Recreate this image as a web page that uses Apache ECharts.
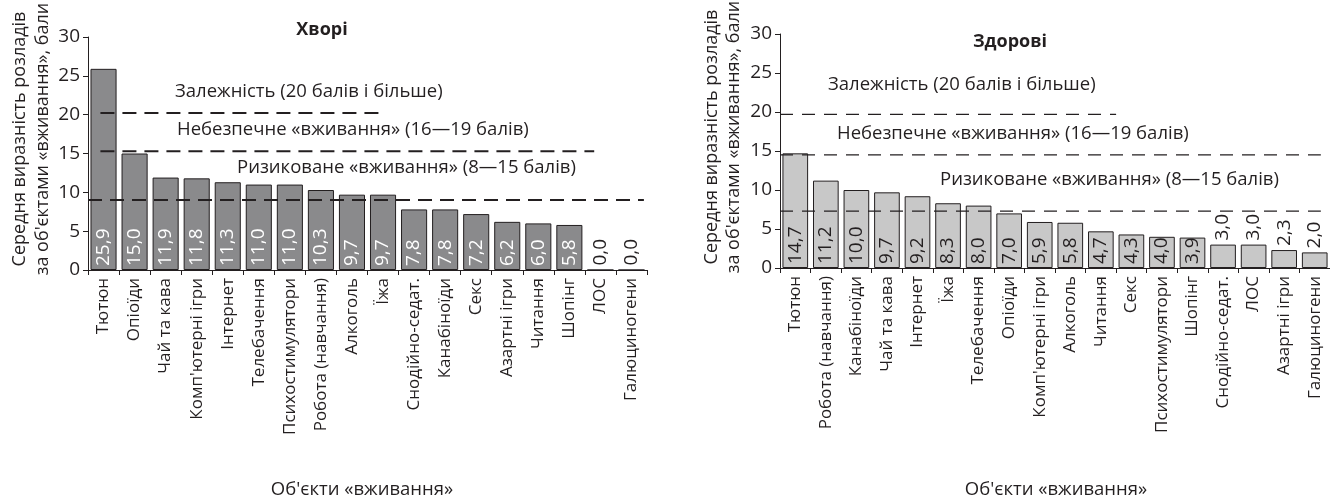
<!DOCTYPE html>
<html>
<head>
<meta charset="utf-8">
<script src="https://cdn.jsdelivr.net/npm/echarts@6/dist/echarts.min.js"></script>
<style>
  html, body { margin: 0; background: #fff; }
  #chart { width: 1330px; height: 497px; }
</style>
</head>
<body>
<div id="chart"></div>
<script>
const sickCategories = ['Тютюн', 'Опіоїди', 'Чай та кава', "Комп'ютерні ігри", 'Інтернет', 'Телебачення',
  'Психостимулятори', 'Робота (навчання)', 'Алкоголь', 'Їжа', 'Снодійно-седат.', 'Канабіноїди',
  'Секс', 'Азартні ігри', 'Читання', 'Шопінг', 'ЛОС', 'Галюциногени']
const sickValues = [25.9, 15.0, 11.9, 11.8, 11.3, 11.0, 11.0, 10.3, 9.7, 9.7, 7.8, 7.8, 7.2, 6.2, 6.0, 5.8, 0.0, 0.0]

const healthyCategories = ['Тютюн', 'Робота (навчання)', 'Канабіноїди', 'Чай та кава', 'Інтернет', 'Їжа',
  'Телебачення', 'Опіоїди', "Комп'ютерні ігри", 'Алкоголь', 'Читання', 'Секс', 'Психостимулятори',
  'Шопінг', 'Снодійно-седат.', 'ЛОС', 'Азартні ігри', 'Галюциногени']
const healthyValues = [14.7, 11.2, 10.0, 9.7, 9.2, 8.3, 8.0, 7.0, 5.9, 5.8, 4.7, 4.3, 4.0, 3.9, 3.0, 3.0, 2.3, 2.0]

// dashed zone borders as drawn in the picture
const sickThresholds = [20.2, 15.3, 9.0]
const healthyThresholds = [19.7, 14.5, 7.3]
const zoneNames = ['Залежність (20 балів і більше)', 'Небезпечне «вживання» (16—19 балів)', 'Ризиковане «вживання» (8—15 балів)']

const yMin = 0
const yMax = 30
const yStep = 5

// horizontal extent of each dashed line, in category units
const sickSpans = [[0.4, 9.5], [0.4, 16.3], [0, 17.9]]
const healthySpans = [[0, 11], [0, 17.7], [0, 17.7]]

const FONT = '"Open Sans", "Noto Sans", sans-serif'
const INK = '#231f20'
const fmt = (v) => v.toFixed(1).replace('.', ',')

function barData(values, insideColor, outsideBelow) {
  return values.map((v) => ({
    value: v,
    label: v < outsideBelow
      ? { position: 'top', color: INK }
      : { position: 'insideBottom', color: insideColor }
  }))
}

function categoryAxis(gridIndex, data) {
  return {
    type: 'category',
    gridIndex,
    data,
    axisLine: { lineStyle: { color: INK, width: 1 } },
    axisTick: { show: true, interval: 0, length: 5, lineStyle: { color: INK } },
    axisLabel: { interval: 0, rotate: 90, margin: 8, color: INK, fontSize: 17, fontFamily: FONT }
  }
}

function valueAxis(gridIndex) {
  return {
    type: 'value',
    gridIndex,
    min: yMin,
    max: yMax,
    interval: yStep,
    axisLine: { show: true, lineStyle: { color: INK, width: 1 } },
    axisTick: { show: true, length: 5, lineStyle: { color: INK } },
    axisLabel: { margin: 8, color: INK, fontSize: 19, fontFamily: FONT },
    splitLine: { show: false }
  }
}

function dashSeries(thresholds, spans, xAxisIndex, yAxisIndex, width, dash) {
  return thresholds.map((t, i) => ({
    type: 'line',
    xAxisIndex,
    yAxisIndex,
    data: [[spans[i][0], t], [spans[i][1], t]],
    symbol: 'none',
    silent: true,
    z: 5,
    lineStyle: { color: INK, width, type: dash }
  }))
}

function text(str, x, y, opts = {}) {
  return {
    type: 'text',
    x,
    y,
    rotation: opts.rotation || 0,
    style: {
      text: str,
      fill: INK,
      font: `${opts.bold ? 'bold ' : ''}${opts.size || 18.5}px ${FONT}`,
      textAlign: opts.align || 'left',
      textVerticalAlign: 'middle'
    }
  }
}

const chart = echarts.init(document.getElementById('chart'), null, { renderer: 'canvas' })

const labelBase = {
  show: true,
  rotate: 90,
  align: 'left',
  verticalAlign: 'middle',
  distance: 4,
  fontSize: 19,
  fontFamily: FONT,
  formatter: (p) => fmt(p.value)
}

chart.setOption({
  animation: false,
  grid: [
    { left: 88, top: 37, right: 683, bottom: 227 },
    { left: 780, top: 34, right: -2, bottom: 229 }
  ],
  xAxis: [
    categoryAxis(0, sickCategories),
    categoryAxis(1, healthyCategories),
    { type: 'value', gridIndex: 0, min: 0, max: 18, show: false },
    { type: 'value', gridIndex: 1, min: 0, max: 18, show: false }
  ],
  yAxis: [valueAxis(0), valueAxis(1)],
  series: [
    {
      type: 'bar',
      xAxisIndex: 0,
      yAxisIndex: 0,
      barCategoryGap: '16%',
      data: barData(sickValues, '#ffffff', 1),
      itemStyle: { color: '#8a8a8c', borderColor: INK, borderWidth: 1 },
      label: labelBase
    },
    {
      type: 'bar',
      xAxisIndex: 1,
      yAxisIndex: 1,
      barCategoryGap: '16%',
      data: barData(healthyValues, INK, 3.5),
      itemStyle: { color: '#c8c8c8', borderColor: INK, borderWidth: 1 },
      label: labelBase
    },
    ...dashSeries(sickThresholds, sickSpans, 2, 0, 2, [14, 8]),
    ...dashSeries(healthyThresholds, healthySpans, 3, 1, 1.2, [13, 9])
  ],
  graphic: [
    text('Хворі', 322, 30, { bold: true, size: 18, align: 'center' }),
    text(zoneNames[0], 175, 92),
    text(zoneNames[1], 177, 130),
    text(zoneNames[2], 237, 168),
    text('Здорові', 1010, 42, { bold: true, size: 18, align: 'center' }),
    text(zoneNames[0], 828, 85),
    text(zoneNames[1], 837, 134),
    text(zoneNames[2], 940, 180),
    text('Середня виразність розладів', 20, 139, { rotation: Math.PI / 2, size: 18, align: 'center' }),
    text("за об'єктами «вживання», бали", 43, 139, { rotation: Math.PI / 2, size: 18, align: 'center' }),
    text('Середня виразність розладів', 712, 137, { rotation: Math.PI / 2, size: 18, align: 'center' }),
    text("за об'єктами «вживання», бали", 734, 137, { rotation: Math.PI / 2, size: 18, align: 'center' }),
    text("Об'єкти «вживання»", 362, 490, { size: 18.5, align: 'center' }),
    text("Об'єкти «вживання»", 1056, 490, { size: 18.5, align: 'center' })
  ]
})

window.addEventListener('resize', () => chart.resize())
</script>
</body>
</html>
